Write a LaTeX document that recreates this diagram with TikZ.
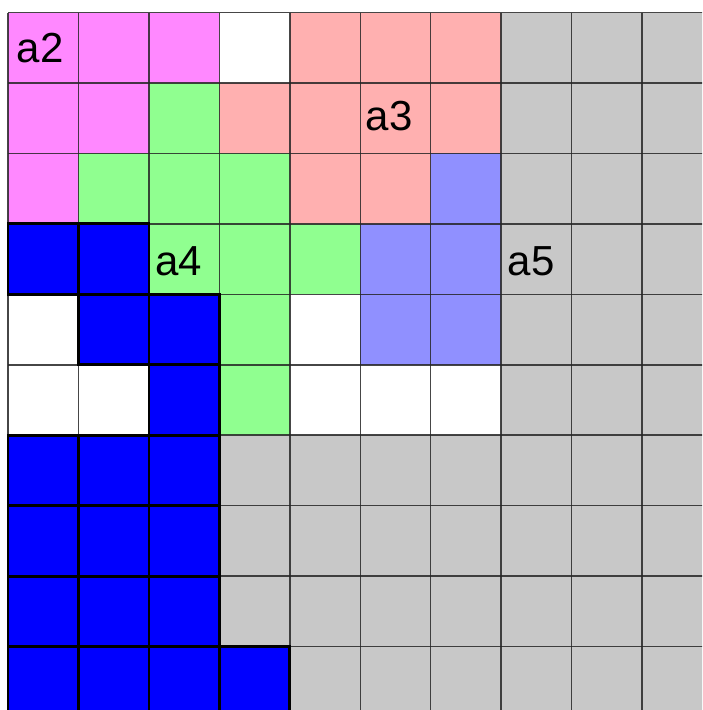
\documentclass[tikz,border=0pt]{standalone}
\usepackage{fontspec}
\setmainfont{Liberation Sans}
\definecolor{mag}{HTML}{FF88FF}
\definecolor{pnk}{HTML}{FFB0B0}
\definecolor{grn}{HTML}{90FF90}
\definecolor{lbl}{HTML}{9090FF}
\definecolor{blu}{HTML}{0000FF}
\definecolor{gry}{HTML}{C8C8C8}
\newcommand\cellsz{70.45}
\newcommand\rowfill[2]{\foreach \col [count=\c from 0] in {#2} {\fill[\col] ({8+\c*\cellsz},{12.5+#1*\cellsz}) rectangle ++(\cellsz,\cellsz);}}
\newcommand\bluecell[2]{\draw[blueedge] ({8+#2*\cellsz},{12.5+#1*\cellsz}) rectangle ++(\cellsz,\cellsz);}
\tikzset{
  gridline/.style={draw=black!85, line width=1.5pt, opacity=0.85},
  blueedge/.style={draw=black, line width=2.8pt},
  lab/.style={font=\fontsize{42}{42}\selectfont, inner sep=0pt, anchor=base west, text=black}
}
\begin{document}
\begin{tikzpicture}[x=1pt,y=-1pt]
\useasboundingbox (0,0) rectangle (702,710);
\fill[white] (0,0) rectangle (702,710);
\begin{scope}
\clip (0,0) rectangle (702,710);
\rowfill{0}{mag,mag,mag,white,pnk,pnk,pnk,gry,gry,gry}
\rowfill{1}{mag,mag,grn,pnk,pnk,pnk,pnk,gry,gry,gry}
\rowfill{2}{mag,grn,grn,grn,pnk,pnk,lbl,gry,gry,gry}
\rowfill{3}{blu,blu,grn,grn,grn,lbl,lbl,gry,gry,gry}
\rowfill{4}{white,blu,blu,grn,white,lbl,lbl,gry,gry,gry}
\rowfill{5}{white,white,blu,grn,white,white,white,gry,gry,gry}
\rowfill{6}{blu,blu,blu,gry,gry,gry,gry,gry,gry,gry}
\rowfill{7}{blu,blu,blu,gry,gry,gry,gry,gry,gry,gry}
\rowfill{8}{blu,blu,blu,gry,gry,gry,gry,gry,gry,gry}
\rowfill{9}{blu,blu,blu,blu,gry,gry,gry,gry,gry,gry}
\foreach \i in {0,...,10} {
  \draw[gridline] ({8+\i*\cellsz},12.5) -- ({8+\i*\cellsz},{12.5+10*\cellsz});
  \draw[gridline] (8,{12.5+\i*\cellsz}) -- ({8+10*\cellsz},{12.5+\i*\cellsz});
}
\bluecell{3}{0}\bluecell{3}{1}
\bluecell{4}{1}\bluecell{4}{2}
\bluecell{5}{2}
\foreach \r in {6,7,8} {\foreach \c in {0,1,2} {\bluecell{\r}{\c}}}
\foreach \c in {0,1,2,3} {\bluecell{9}{\c}}
\end{scope}
\node[lab] (a2) at (16.5,62) {a2};
\node[lab] (a3) at (365.5,130) {a3};
\node[lab] (a4) at (155,275) {a4};
\node[lab] (a5) at (507.5,275) {a5};
\end{tikzpicture}
\end{document}
